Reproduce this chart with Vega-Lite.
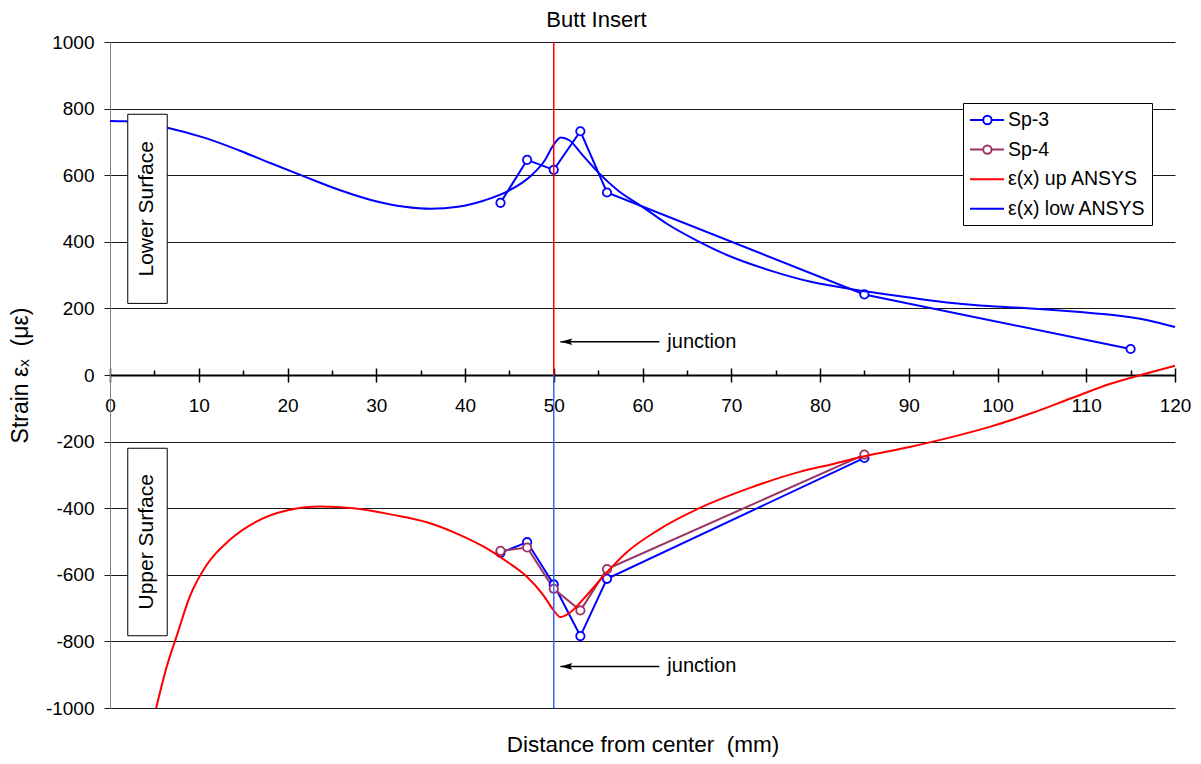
{
  "$schema": "https://vega.github.io/schema/vega-lite/v6.json",
  "width": 1065,
  "height": 666,
  "autosize": {"type": "none"},
  "padding": {"left": 110, "top": 42, "right": 26, "bottom": 56},
  "background": "white",
  "title": {"text": "Butt Insert", "fontSize": 22, "fontWeight": "normal", "font": "Liberation Sans", "color": "black", "anchor": "middle", "frame": "group", "dx": -46, "offset": 1.5},
  "config": {
    "font": "Liberation Sans",
    "view": {"stroke": null},
    "axis": {"labelFont": "Liberation Sans", "titleFont": "Liberation Sans", "labelColor": "black", "titleColor": "black", "labelFontSize": 19, "titleFontSize": 22, "titleFontWeight": "normal"}
  },
  "datasets": {
    "sp": [
      {"series": "Sp-3", "surface": "lower", "x": 44, "y": 517},
      {"series": "Sp-3", "surface": "lower", "x": 47, "y": 646},
      {"series": "Sp-3", "surface": "lower", "x": 50, "y": 616},
      {"series": "Sp-3", "surface": "lower", "x": 53, "y": 732},
      {"series": "Sp-3", "surface": "lower", "x": 56, "y": 548},
      {"series": "Sp-3", "surface": "lower", "x": 85, "y": 242},
      {"series": "Sp-3", "surface": "lower", "x": 115, "y": 78},
      {"series": "Sp-3", "surface": "upper", "x": 44, "y": -534},
      {"series": "Sp-3", "surface": "upper", "x": 47, "y": -502},
      {"series": "Sp-3", "surface": "upper", "x": 50, "y": -629},
      {"series": "Sp-3", "surface": "upper", "x": 53, "y": -784},
      {"series": "Sp-3", "surface": "upper", "x": 56, "y": -612},
      {"series": "Sp-3", "surface": "upper", "x": 85, "y": -249},
      {"series": "Sp-4", "surface": "upper", "x": 44, "y": -528},
      {"series": "Sp-4", "surface": "upper", "x": 47, "y": -518},
      {"series": "Sp-4", "surface": "upper", "x": 50, "y": -642},
      {"series": "Sp-4", "surface": "upper", "x": 53, "y": -707},
      {"series": "Sp-4", "surface": "upper", "x": 56, "y": -583},
      {"series": "Sp-4", "surface": "upper", "x": 85, "y": -239}
    ],
    "ansys": [
      {"series": "ε(x) low ANSYS", "surface": "lower", "x": 0, "y": 763},
      {"series": "ε(x) low ANSYS", "surface": "lower", "x": 1.7, "y": 762},
      {"series": "ε(x) low ANSYS", "surface": "lower", "x": 4, "y": 755},
      {"series": "ε(x) low ANSYS", "surface": "lower", "x": 6.57, "y": 742},
      {"series": "ε(x) low ANSYS", "surface": "lower", "x": 10.7, "y": 712},
      {"series": "ε(x) low ANSYS", "surface": "lower", "x": 14.5, "y": 675},
      {"series": "ε(x) low ANSYS", "surface": "lower", "x": 18.2, "y": 635},
      {"series": "ε(x) low ANSYS", "surface": "lower", "x": 22, "y": 595},
      {"series": "ε(x) low ANSYS", "surface": "lower", "x": 25.7, "y": 557},
      {"series": "ε(x) low ANSYS", "surface": "lower", "x": 29.5, "y": 525},
      {"series": "ε(x) low ANSYS", "surface": "lower", "x": 33.2, "y": 505},
      {"series": "ε(x) low ANSYS", "surface": "lower", "x": 36.2, "y": 499},
      {"series": "ε(x) low ANSYS", "surface": "lower", "x": 39.2, "y": 505},
      {"series": "ε(x) low ANSYS", "surface": "lower", "x": 42.25, "y": 525},
      {"series": "ε(x) low ANSYS", "surface": "lower", "x": 44.9, "y": 553},
      {"series": "ε(x) low ANSYS", "surface": "lower", "x": 47.5, "y": 600},
      {"series": "ε(x) low ANSYS", "surface": "lower", "x": 49, "y": 645},
      {"series": "ε(x) low ANSYS", "surface": "lower", "x": 49.95, "y": 690},
      {"series": "ε(x) low ANSYS", "surface": "lower", "x": 50.8, "y": 713},
      {"series": "ε(x) low ANSYS", "surface": "lower", "x": 51.75, "y": 705},
      {"series": "ε(x) low ANSYS", "surface": "lower", "x": 53.1, "y": 665},
      {"series": "ε(x) low ANSYS", "surface": "lower", "x": 54.95, "y": 610},
      {"series": "ε(x) low ANSYS", "surface": "lower", "x": 57.2, "y": 555},
      {"series": "ε(x) low ANSYS", "surface": "lower", "x": 60, "y": 505},
      {"series": "ε(x) low ANSYS", "surface": "lower", "x": 62.7, "y": 455},
      {"series": "ε(x) low ANSYS", "surface": "lower", "x": 66.4, "y": 400},
      {"series": "ε(x) low ANSYS", "surface": "lower", "x": 70, "y": 355},
      {"series": "ε(x) low ANSYS", "surface": "lower", "x": 74.6, "y": 312},
      {"series": "ε(x) low ANSYS", "surface": "lower", "x": 79.1, "y": 279},
      {"series": "ε(x) low ANSYS", "surface": "lower", "x": 83.7, "y": 257},
      {"series": "ε(x) low ANSYS", "surface": "lower", "x": 86.8, "y": 245},
      {"series": "ε(x) low ANSYS", "surface": "lower", "x": 90.5, "y": 231},
      {"series": "ε(x) low ANSYS", "surface": "lower", "x": 94.3, "y": 218},
      {"series": "ε(x) low ANSYS", "surface": "lower", "x": 98, "y": 209},
      {"series": "ε(x) low ANSYS", "surface": "lower", "x": 101.8, "y": 203},
      {"series": "ε(x) low ANSYS", "surface": "lower", "x": 105.5, "y": 197},
      {"series": "ε(x) low ANSYS", "surface": "lower", "x": 109.3, "y": 189},
      {"series": "ε(x) low ANSYS", "surface": "lower", "x": 113, "y": 180},
      {"series": "ε(x) low ANSYS", "surface": "lower", "x": 116.8, "y": 165},
      {"series": "ε(x) low ANSYS", "surface": "lower", "x": 120, "y": 144},
      {"series": "ε(x) up ANSYS", "surface": "upper", "x": 5.2, "y": -1000},
      {"series": "ε(x) up ANSYS", "surface": "upper", "x": 6.4, "y": -875},
      {"series": "ε(x) up ANSYS", "surface": "upper", "x": 7.5, "y": -785},
      {"series": "ε(x) up ANSYS", "surface": "upper", "x": 9, "y": -665},
      {"series": "ε(x) up ANSYS", "surface": "upper", "x": 10.9, "y": -570},
      {"series": "ε(x) up ANSYS", "surface": "upper", "x": 13.5, "y": -495},
      {"series": "ε(x) up ANSYS", "surface": "upper", "x": 16.5, "y": -440},
      {"series": "ε(x) up ANSYS", "surface": "upper", "x": 19.9, "y": -407},
      {"series": "ε(x) up ANSYS", "surface": "upper", "x": 23.7, "y": -395},
      {"series": "ε(x) up ANSYS", "surface": "upper", "x": 27.4, "y": -400},
      {"series": "ε(x) up ANSYS", "surface": "upper", "x": 31.9, "y": -420},
      {"series": "ε(x) up ANSYS", "surface": "upper", "x": 35.7, "y": -442},
      {"series": "ε(x) up ANSYS", "surface": "upper", "x": 39.4, "y": -480},
      {"series": "ε(x) up ANSYS", "surface": "upper", "x": 42.4, "y": -520},
      {"series": "ε(x) up ANSYS", "surface": "upper", "x": 44.7, "y": -560},
      {"series": "ε(x) up ANSYS", "surface": "upper", "x": 46.95, "y": -605},
      {"series": "ε(x) up ANSYS", "surface": "upper", "x": 48.8, "y": -660},
      {"series": "ε(x) up ANSYS", "surface": "upper", "x": 49.95, "y": -705},
      {"series": "ε(x) up ANSYS", "surface": "upper", "x": 50.75, "y": -727},
      {"series": "ε(x) up ANSYS", "surface": "upper", "x": 51.75, "y": -715},
      {"series": "ε(x) up ANSYS", "surface": "upper", "x": 53.6, "y": -665},
      {"series": "ε(x) up ANSYS", "surface": "upper", "x": 55.9, "y": -595},
      {"series": "ε(x) up ANSYS", "surface": "upper", "x": 58.1, "y": -535},
      {"series": "ε(x) up ANSYS", "surface": "upper", "x": 61.8, "y": -465},
      {"series": "ε(x) up ANSYS", "surface": "upper", "x": 66.4, "y": -400},
      {"series": "ε(x) up ANSYS", "surface": "upper", "x": 72.1, "y": -339},
      {"series": "ε(x) up ANSYS", "surface": "upper", "x": 77.7, "y": -291},
      {"series": "ε(x) up ANSYS", "surface": "upper", "x": 81.5, "y": -267},
      {"series": "ε(x) up ANSYS", "surface": "upper", "x": 85, "y": -244},
      {"series": "ε(x) up ANSYS", "surface": "upper", "x": 90.1, "y": -216},
      {"series": "ε(x) up ANSYS", "surface": "upper", "x": 94.6, "y": -188},
      {"series": "ε(x) up ANSYS", "surface": "upper", "x": 99.2, "y": -155},
      {"series": "ε(x) up ANSYS", "surface": "upper", "x": 103.8, "y": -115},
      {"series": "ε(x) up ANSYS", "surface": "upper", "x": 108.3, "y": -70},
      {"series": "ε(x) up ANSYS", "surface": "upper", "x": 112.9, "y": -25},
      {"series": "ε(x) up ANSYS", "surface": "upper", "x": 117.5, "y": 10},
      {"series": "ε(x) up ANSYS", "surface": "upper", "x": 120, "y": 28}
    ],
    "junction": [
      {"surface": "lower", "x": 50, "y": 0, "y2": 1000},
      {"surface": "upper", "x": 50, "y": 0, "y2": -1000}
    ],
    "arrows": [
      {"label": "junction", "tip": 50.75, "tail": 61.9, "y": 100},
      {"label": "junction", "tip": 50.75, "tail": 61.9, "y": -875}
    ],
    "boxes": [
      {"label": "Lower Surface", "x1": 2.0, "x2": 6.45, "y1": 215, "y2": 783, "xm": 4.22, "ym": 499},
      {"label": "Upper Surface", "x1": 2.0, "x2": 6.45, "y1": -220, "y2": -783, "xm": 4.22, "ym": -501}
    ]
  },
  "resolve": {"axis": {"x": "independent", "y": "independent"}},
  "layer": [
    {
      "data": {"name": "sp"},
      "mark": {"type": "line", "strokeWidth": 2, "point": {"filled": false, "fill": "white", "size": 70, "strokeWidth": 1.8}},
      "encoding": {
        "x": {"field": "x", "type": "quantitative", "scale": {"domain": [0, 120], "nice": false, "zero": false},
          "axis": {"orient": "bottom", "offset": -333, "values": [0, 10, 20, 30, 40, 50, 60, 70, 80, 90, 100, 110, 120], "format": "d", "tickSize": 7, "tickWidth": 1.5, "tickColor": "black", "domainColor": "black", "domainWidth": 2, "labelPadding": 14, "grid": false, "title": null, "labelFlush": false, "labelOverlap": false}},
        "y": {"field": "y", "type": "quantitative", "scale": {"domain": [-1000, 1000], "nice": false},
          "axis": {"orient": "left", "values": [-1000, -800, -600, -400, -200, 0, 200, 400, 600, 800, 1000], "labelExpr": "'' + datum.value", "grid": true, "gridColor": "#1a1a1a", "gridWidth": 1, "tickColor": "#1a1a1a", "tickSize": 6, "domainColor": "#808080", "domainWidth": 1, "labelPadding": 10, "labelFlush": false, "labelOverlap": false, "title": "Strain εₓ\u00a0\u00a0(με)", "titleFontSize": 23, "titlePadding": 13}},
        "color": {"field": "series", "type": "nominal",
          "scale": {"domain": ["Sp-3", "Sp-4", "ε(x) up ANSYS", "ε(x) low ANSYS"], "range": ["#0000FF", "#993366", "#FF0000", "#0000FF"]},
          "legend": {"title": null, "orient": "none", "legendX": 853, "legendY": 61, "strokeColor": "black", "fillColor": "white", "padding": 6,
            "labelFontSize": 19.5, "labelFont": "Liberation Sans", "labelColor": "black", "symbolSize": 400, "symbolStrokeWidth": 2, "rowPadding": 8.6, "labelOffset": 17,
            "encode": {"symbols": {"update": {"shape": {"signal": "indexof(['Sp-3','Sp-4'], datum.value) >= 0 ? 'M-1.0,0H0.32M1.16,0H2.4M1.16,0A0.42,0.42,0,1,1,0.32,0A0.42,0.42,0,1,1,1.16,0' : 'M-1.0,0H2.4'"}, "fill": {"value": "white"}, "strokeWidth": {"value": 2}}}}}},
        "detail": {"field": "surface"}
      }
    },
    {
      "data": {"name": "ansys"},
      "mark": {"type": "line", "strokeWidth": 2, "interpolate": "monotone"},
      "encoding": {
        "x": {"field": "x", "type": "quantitative",
          "axis": {"orient": "top", "offset": -333, "values": [0, 5, 10, 15, 20, 25, 30, 35, 40, 45, 50, 55, 60, 65, 70, 75, 80, 85, 90, 95, 100, 105, 110, 115, 120], "tickSize": {"condition": {"test": "datum.value % 10 === 0", "value": 7}, "value": 5}, "tickWidth": 1.5, "tickColor": "black", "domain": false, "labels": false, "grid": false, "title": null}},
        "y": {"field": "y", "type": "quantitative", "axis": null},
        "color": {"field": "series", "type": "nominal"},
        "detail": {"field": "surface"}
      }
    },
    {
      "data": {"name": "junction"},
      "transform": [{"filter": "datum.surface === 'lower'"}],
      "mark": {"type": "rule", "color": "#FF0000", "strokeWidth": 1.5},
      "encoding": {
        "x": {"field": "x", "type": "quantitative",
          "axis": {"orient": "bottom", "offset": 0, "domain": false, "ticks": false, "labels": false, "grid": false, "title": "Distance from center\u00a0\u00a0(mm)", "titleFontSize": 22.5, "titlePadding": 25}},
        "y": {"field": "y", "type": "quantitative", "axis": null},
        "y2": {"field": "y2"}
      }
    },
    {
      "data": {"name": "junction"},
      "transform": [{"filter": "datum.surface === 'upper'"}],
      "mark": {"type": "rule", "color": "#3366FF", "strokeWidth": 1.5},
      "encoding": {
        "x": {"field": "x", "type": "quantitative", "axis": null},
        "y": {"field": "y", "type": "quantitative", "axis": null},
        "y2": {"field": "y2"}
      }
    },
    {
      "data": {"name": "arrows"},
      "mark": {"type": "rule", "color": "black", "strokeWidth": 1.5},
      "encoding": {
        "x": {"field": "tip", "type": "quantitative", "axis": null},
        "x2": {"field": "tail"},
        "y": {"field": "y", "type": "quantitative", "axis": null}
      }
    },
    {
      "data": {"name": "arrows"},
      "mark": {"type": "point", "shape": "M0,0L2,-0.55L1.6,0L2,0.55Z", "size": 144, "filled": true, "color": "black", "opacity": 1},
      "encoding": {
        "x": {"field": "tip", "type": "quantitative", "axis": null},
        "y": {"field": "y", "type": "quantitative", "axis": null}
      }
    },
    {
      "data": {"name": "arrows"},
      "mark": {"type": "text", "align": "left", "baseline": "middle", "dx": 8, "fontSize": 20, "font": "Liberation Sans", "color": "black"},
      "encoding": {
        "x": {"field": "tail", "type": "quantitative", "axis": null},
        "y": {"field": "y", "type": "quantitative", "axis": null},
        "text": {"field": "label"}
      }
    },
    {
      "data": {"name": "boxes"},
      "mark": {"type": "rect", "fill": "white", "stroke": "black", "strokeWidth": 1},
      "encoding": {
        "x": {"field": "x1", "type": "quantitative", "axis": null},
        "x2": {"field": "x2"},
        "y": {"field": "y1", "type": "quantitative", "axis": null},
        "y2": {"field": "y2"}
      }
    },
    {
      "data": {"name": "boxes"},
      "mark": {"type": "text", "angle": 270, "align": "center", "baseline": "middle", "fontSize": 21, "font": "Liberation Sans", "color": "black"},
      "encoding": {
        "x": {"field": "xm", "type": "quantitative", "axis": null},
        "y": {"field": "ym", "type": "quantitative", "axis": null},
        "text": {"field": "label"}
      }
    }
  ]
}
